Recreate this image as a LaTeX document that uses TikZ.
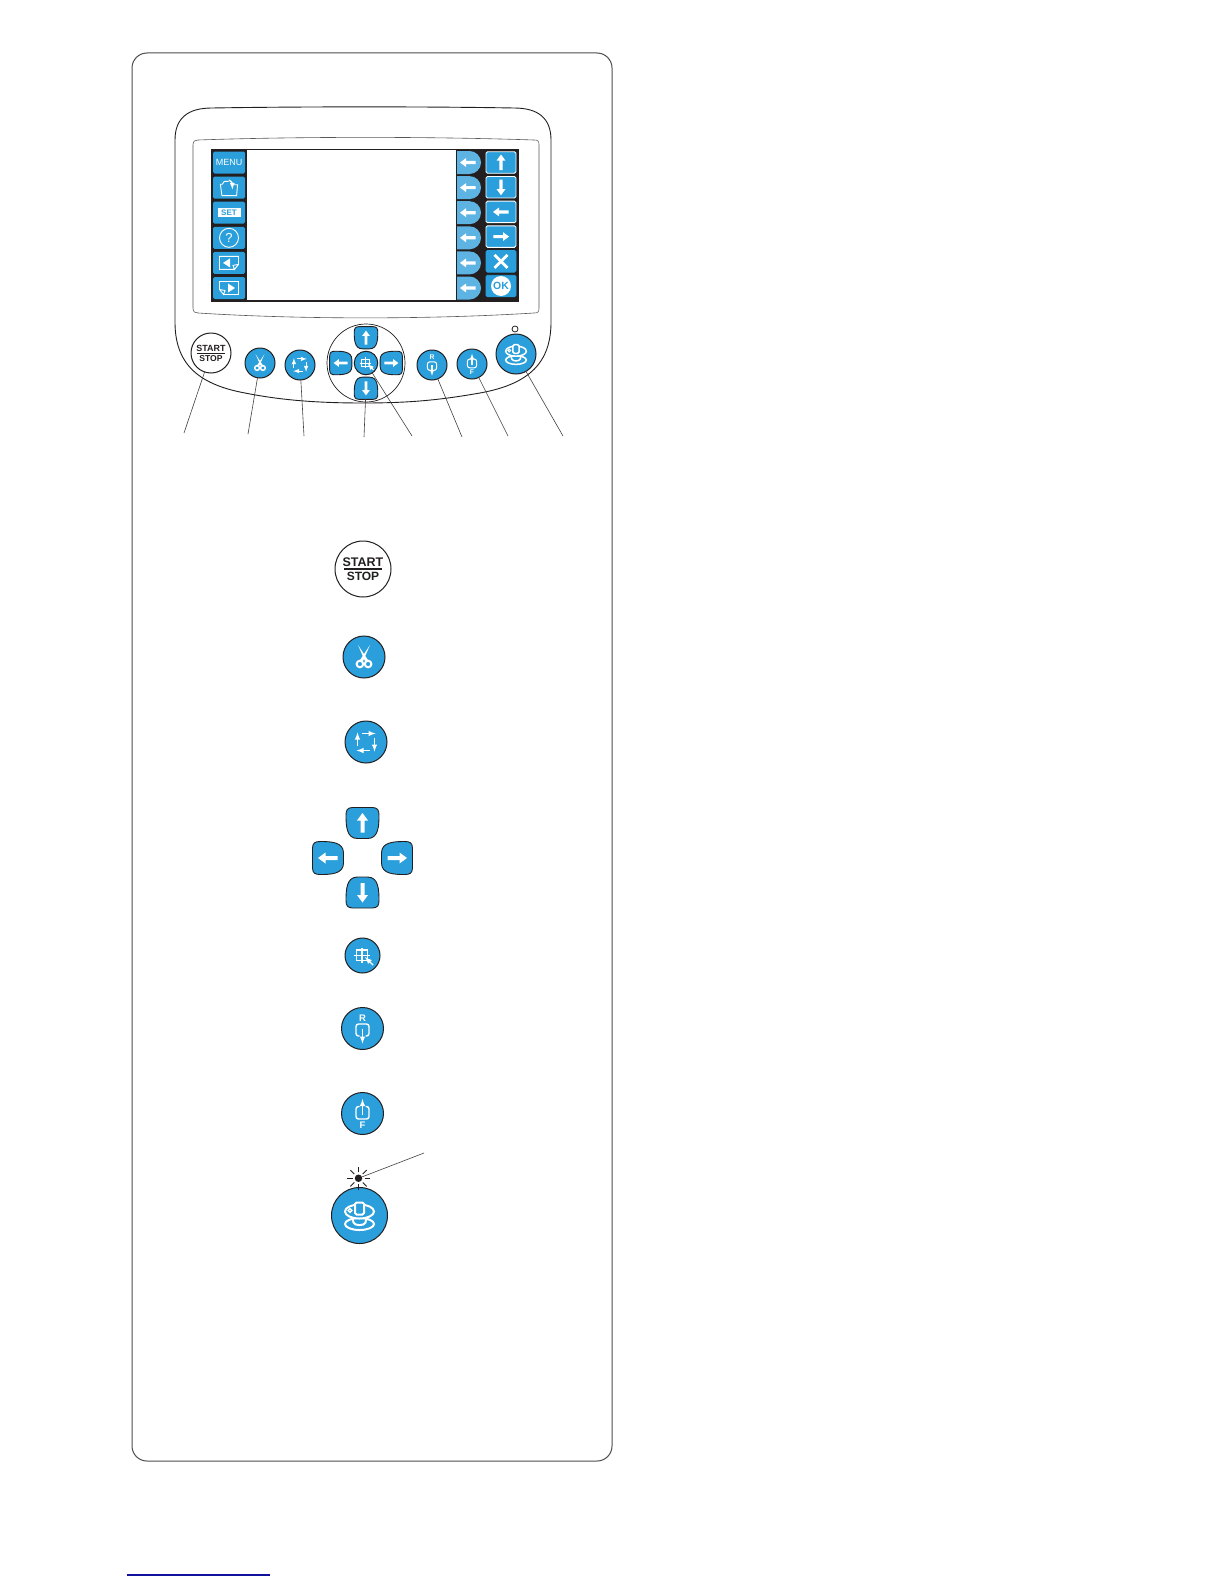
\documentclass[tikz,border=0pt]{standalone}
\usepackage{fontspec}
\setmainfont{Liberation Sans}
\usepackage{tikz}
\usetikzlibrary{shapes.misc, arrows, positioning}
\definecolor{keyblue}{HTML}{2A9FDB}
\definecolor{softblue}{HTML}{5DB4E3}
\definecolor{inkblack}{HTML}{231F20}
\definecolor{linkblue}{HTML}{10109C}
\newcommand{\iconlw}{2pt}

\begin{document}
\begin{tikzpicture}[
        x=1pt, y=-1pt,
        >=latex,
        roundkey/.style={circle, draw=inkblack, fill=keyblue, line width=1pt, inner sep=0pt, outer sep=0pt, minimum size=#1},
        startkey/.style={circle, draw=inkblack, fill=white, line width=1pt, inner sep=0pt, outer sep=0pt, minimum size=#1},
        padnode/.style={rectangle, inner sep=0pt, outer sep=0pt, minimum width=#1},
        menukey/.style={rectangle, fill=keyblue, rounded corners=1.5pt, text=white, inner sep=0pt, minimum width=32pt, minimum height=22pt, font=\fontsize{9}{9}\selectfont},
        softkey/.style={rounded rectangle, rounded rectangle west arc=none, fill=softblue, inner sep=0pt, minimum width=24pt, minimum height=23pt},
        cursorkey/.style={rectangle, fill=keyblue, draw=white, line width=0.9pt, rounded corners=1.5pt, inner sep=0pt, outer sep=0pt, minimum width=30pt, minimum height=21.5pt},
        leader/.style={draw=inkblack!85, line width=0.6pt},
        smallicon/.style={scale=0.714, /utils/exec={\def\iconlw{1.5pt}}},
        iconline/.style={draw=white, line width=\iconlw},
        thinline/.style={draw=white, line width=0.7*\iconlw},
        blockarrow/.pic={
            \fill [white] (0,-10) -- (5.5,-2.5) -- (2,-2.5) -- (2,9.5) -- (-2,9.5) -- (-2,-2.5) -- (-5.5,-2.5) -- cycle;
        },
        padshape/.pic={
            \draw [fill=keyblue, draw=inkblack, line width=0.9pt]
                (-10,-15.5) .. controls (0,-16.3) .. (10,-15.5)
                .. controls (15,-15.3) and (16.5,-13) .. (16.5,-8)
                .. controls (16.5,3) and (16,15.5) .. (5,15.5)
                -- (-5,15.5)
                .. controls (-16,15.5) and (-16.5,3) .. (-16.5,-8)
                .. controls (-16.5,-13) and (-15,-15.3) .. (-10,-15.5) -- cycle;
            \fill [white] (0,-10) -- (5.5,-2.5) -- (2,-2.5) -- (2,9.5) -- (-2,9.5) -- (-2,-2.5) -- (-5.5,-2.5) -- cycle;
        },
        startstop/.pic={
            \node [transform shape, font=\fontsize{12.5}{12.5}\selectfont\bfseries, text=inkblack, inner sep=0pt] at (0,-6.5) {START};
            \node [transform shape, font=\fontsize{12}{12}\selectfont\bfseries, text=inkblack, inner sep=0pt] at (0,7.5) {STOP};
            \fill [inkblack] (-19,-0.7) rectangle (19,0.7);
        },
        scissors/.pic={
            \fill [white] (-6,-12) -- (4.6,4) -- (1.6,5.5) -- cycle;
            \fill [white] (6,-12) -- (-4.6,4) -- (-1.6,5.5) -- cycle;
            \draw [iconline] (-4.1,7) circle (3.3);
            \draw [iconline] (4.1,7) circle (3.3);
        },
        repeaticon/.pic={
            \foreach \turn in {0,-90,-180,-270}
                \draw [thinline, ->, rotate=\turn] (-4,-8.5) -- (9.5,-8.5);
        },
        targeticon/.pic={
            \draw [iconline, line width=0.6*\iconlw] (-6,-5.5) rectangle (5,5);
            \draw [iconline, line width=0.6*\iconlw] (-9,0) -- (7,0);
            \draw [iconline, line width=0.6*\iconlw] (-0.5,-8) -- (-0.5,7);
            \draw [thinline, <-] (2.5,1.5) -- (10.5,9.5);
        },
        rearicon/.pic={
            \node [transform shape, font=\fontsize{9.5}{9.5}\selectfont\bfseries, text=white, inner sep=0pt] at (0,-10.5) {R};
            \draw [thinline, rounded corners=2.5pt] (-3,7.5) -- (-6.5,7.5) -- (-6.5,-4.5) -- (6.5,-4.5) -- (6.5,7.5) -- (3,7.5);
            \draw [thinline, ->] (0,0) -- (0,15);
        },
        fronticon/.pic={
            \node [transform shape, font=\fontsize{9.5}{9.5}\selectfont\bfseries, text=white, inner sep=0pt] at (0,11.5) {F};
            \draw [thinline, rounded corners=2.5pt] (-3,-7) -- (-6.5,-7) -- (-6.5,5.5) -- (6.5,5.5) -- (6.5,-7) -- (3,-7);
            \draw [thinline, ->] (0,1) -- (0,-14.5);
        },
        bobbinicon/.pic={
            \draw [iconline] (0,8.5) ellipse (14.5 and 6);
            \draw [iconline] (-7,2) -- (-6,7) .. controls (-5,10.5) and (5,10.5) .. (6,7) -- (7,2);
            \draw [iconline, fill=keyblue] (0,-4) ellipse (14.5 and 7);
            \draw [iconline, fill=keyblue, rounded corners=1.5pt] (-4.5,-1) -- (-4.5,-13) -- (4.5,-13) -- (4.5,-1) -- cycle;
            \draw [iconline, line width=0.7*\iconlw] (-9.5,-5) circle (1.9);
        },
        folderpic/.pic={
            \draw [iconline, line width=0.9pt] (-7.5,8.5) -- (-9,-3.5) -- (-7,-3.5) -- (-5,-6.5) -- (-0.5,-6.5);
            \draw [iconline, line width=0.9pt] (-7.5,8.5) -- (8,8.5) -- (9,-3) -- (5.5,-3);
            \draw [iconline, line width=1.3pt, ->] (0,-8) .. controls (2.5,-7.5) and (3.5,-4) .. (3.5,2);
        },
        pagepic/.pic={
            \draw [iconline, line width=0.9pt] (5.5,6.5) -- (-9.5,6.5) -- (-9.5,-6.5) -- (9.5,-6.5) -- (9.5,1.5) -- (5.5,6.5) -- (4,2.5) -- (9.5,1.5);
            \fill [white] (-6,0) -- (1,-4.5) -- (1,4.5) -- cycle;
        }
    ]

    \fill [white] (0,0) rectangle (1224,1584);
    \useasboundingbox (0,0) rectangle (1224,1584);

    % Outer panel
    \draw [draw=inkblack!80, line width=1pt, rounded corners=15pt] (132,53) rectangle (612,1461);
    \draw [linkblue, line width=1.2pt] (127,1575) -- (270,1575);

    % Machine face
    \draw [draw=inkblack, line width=0.9pt]
        (175,140) .. controls (175,118) and (188,108) .. (212,108)
        .. controls (300,106.5) and (430,106.5) .. (514,108)
        .. controls (538,108) and (551,118) .. (551,140)
        -- (551,322) .. controls (551,362) and (530,384) .. (480,393)
        .. controls (440,400) and (410,403) .. (363,403)
        .. controls (316,403) and (280,400) .. (245,393)
        .. controls (196,384) and (175,362) .. (175,322) -- cycle;
    \draw [draw=inkblack!75, line width=0.6pt]
        (193,145) .. controls (193,141) and (195,140) .. (198,140)
        .. controls (300,136.5) and (430,136.5) .. (534,140)
        .. controls (538,140) and (539,141) .. (539,145)
        -- (539,308) .. controls (539,312) and (538,313) .. (534,313)
        .. controls (430,319.5) and (300,319.5) .. (198,313)
        .. controls (195,313) and (193,312) .. (193,308) -- cycle;

    % Screen
    \node [rectangle, fill=inkblack, inner sep=0pt, minimum width=308pt, minimum height=153pt] (screen) at (365,225) {};
    \node [rectangle, fill=white, inner sep=0pt, minimum width=209pt, minimum height=150pt] (display) at (351.5,225) {};

    % Left column of the screen
    \node [menukey] (menu) at (229,162.5) {MENU};
    \node [menukey, below=2.7pt of menu] (open) {};
    \node [menukey, below=2.7pt of open] (set) {};
    \node [menukey, below=2.7pt of set] (help) {};
    \node [menukey, below=2.7pt of help] (pageback) {};
    \node [menukey, below=2.7pt of pageback] (pagenext) {};
    \pic [scale=0.95] at (open) {folderpic};
    \node [fill=white, text=keyblue, inner sep=0pt, minimum width=23pt, minimum height=9pt, font=\fontsize{8}{8}\selectfont\bfseries] (settext) at (set) {SET};
    \node [circle, draw=white, line width=0.9pt, text=white, inner sep=0pt, minimum size=19pt, font=\fontsize{13}{13}\selectfont] (helpring) at (help) {?};
    \pic at (pageback) {pagepic};
    \pic [xscale=-1] at (pagenext) {pagepic};

    % Middle and right columns of the screen
    \node [softkey] (soft1) at (469,162.5) {};
    \foreach \this/\last in {soft2/soft1, soft3/soft2, soft4/soft3, soft5/soft4, soft6/soft5}
        \node [softkey, below=1.7pt of \last] (\this) {};
    \foreach \this in {soft1, soft2, soft3, soft4, soft5, soft6}
        \pic [rotate=90, scale=0.8] at ([xshift=-1pt]\this.center) {blockarrow};

    \node [cursorkey] (cur1) at (501,162.5) {};
    \foreach \this/\last in {cur2/cur1, cur3/cur2, cur4/cur3}
        \node [cursorkey, below=3.2pt of \last] (\this) {};
    \node [cursorkey, draw=keyblue, below=3.2pt of cur4] (cancel) {};
    \node [cursorkey, draw=keyblue, below=3.2pt of cancel] (confirm) {};
    \pic [scale=0.8] at (cur1) {blockarrow};
    \pic [rotate=180, scale=0.8] at (cur2) {blockarrow};
    \pic [rotate=90, scale=0.8] at (cur3) {blockarrow};
    \pic [rotate=-90, scale=0.8] at (cur4) {blockarrow};
    \draw [white, line width=2.8pt] ([shift={(-6.5,-6.5)}]cancel.center) -- ([shift={(6.5,6.5)}]cancel.center);
    \draw [white, line width=2.8pt] ([shift={(-6.5,6.5)}]cancel.center) -- ([shift={(6.5,-6.5)}]cancel.center);
    \node [circle, fill=white, text=keyblue, inner sep=0pt, minimum size=20pt, font=\fontsize{10.5}{10.5}\selectfont\bfseries] (oktext) at (confirm) {OK};

    % Keys under the screen
    \node [startkey=40pt] (start) at (211,353) {};
    \node [roundkey=30pt] (cut) at (260,363) {};
    \node [roundkey=30pt] (loop) at (300,365) {};
    \node [circle, draw=inkblack, line width=0.7pt, inner sep=0pt, minimum size=78pt] (padring) at (366,363) {};
    \node [roundkey=23.5pt] (target) at (366,363) {};
    \node [padnode=24pt, minimum height=22pt, above=2.5pt of target] (padup) {};
    \node [padnode=24pt, minimum height=22pt, below=2.5pt of target] (paddown) {};
    \node [padnode=22pt, minimum height=24pt, left=2.5pt of target] (padleft) {};
    \node [padnode=22pt, minimum height=24pt, right=2.5pt of target] (padright) {};
    \node [roundkey=30pt] (rear) at (432,365) {};
    \node [roundkey=30pt] (front) at (472,364) {};
    \node [roundkey=40pt] (bobbin) at (516,354) {};
    \node [circle, draw=inkblack, line width=0.8pt, fill=white, inner sep=0pt, minimum size=6pt] (lamp) at (515,329) {};

    \foreach \this/\turn in {padup/0, padleft/90, padright/-90, paddown/180}
        \pic [scale=0.714, rotate=\turn] at (\this) {padshape};
    \pic [smallicon] at (start) {startstop};
    \pic [smallicon] at (cut) {scissors};
    \pic [smallicon] at (loop) {repeaticon};
    \pic [smallicon] at (target) {targeticon};
    \pic [smallicon] at (rear) {rearicon};
    \pic [smallicon] at (front) {fronticon};
    \pic [smallicon] at (bobbin) {bobbinicon};

    % Leaders
    \coordinate (tick1) at (184,433);
    \coordinate (tick2) at (248,434);
    \coordinate (tick3) at (304,436);
    \coordinate (tick4) at (364,437);
    \coordinate (tick5) at (412,436);
    \coordinate (tick6) at (462,437);
    \coordinate (tick7) at (508,436);
    \coordinate (tick8) at (563,436);
    \draw [leader] (start) -- (tick1);
    \draw [leader] (cut) -- (tick2);
    \draw [leader] (loop) -- (tick3);
    \draw [leader] (paddown) -- (tick4);
    \draw [leader] (target) -- (tick5);
    \draw [leader] (rear) -- (tick6);
    \draw [leader] (front) -- (tick7);
    \draw [leader] (bobbin) -- (tick8);

    % Large keys
    \node [startkey=56pt] (bigstart) at (363,569) {};
    \node [roundkey=42pt, below=39pt of bigstart, xshift=1pt] (bigcut) {};
    \node [roundkey=42pt, below=43pt of bigcut, xshift=2pt] (bigloop) {};
    \coordinate (bigcross) at (362.5,858);
    \node [padnode=33pt, minimum height=31pt, above=19.5pt of bigcross] (bigup) {};
    \node [padnode=33pt, minimum height=31pt, below=19pt of bigcross] (bigdown) {};
    \node [padnode=31pt, minimum height=33pt, left=19pt of bigcross] (bigleft) {};
    \node [padnode=31pt, minimum height=33pt, right=19pt of bigcross] (bigright) {};
    \node [roundkey=35pt, below=30pt of bigdown] (bigtarget) {};
    \node [roundkey=42pt, below=34.5pt of bigtarget] (bigrear) {};
    \node [roundkey=42pt, below=43pt of bigrear] (bigfront) {};
    \node [roundkey=56pt, below=53pt of bigfront, xshift=-3pt] (bigbobbin) {};
    \node [circle, fill=inkblack, inner sep=0pt, minimum size=7.5pt, above=5.3pt of bigbobbin, xshift=-1pt] (biglamp) {};

    \foreach \this/\turn in {bigup/0, bigleft/90, bigright/-90, bigdown/180}
        \pic [rotate=\turn] at (\this) {padshape};
    \pic at (bigstart) {startstop};
    \pic at (bigcut) {scissors};
    \pic at (bigloop) {repeaticon};
    \pic at (bigtarget) {targeticon};
    \pic at (bigrear) {rearicon};
    \pic at (bigfront) {fronticon};
    \pic at (bigbobbin) {bobbinicon};

    % Lamp rays
    \foreach \turn in {0,45,...,315}
        \draw [inkblack, line width=0.8pt] (biglamp) ++(\turn:6) -- ++(\turn:5.5);
    \coordinate (tick9) at (424,1153);
    \draw [leader] (biglamp) -- (tick9);

\end{tikzpicture}
\end{document}
